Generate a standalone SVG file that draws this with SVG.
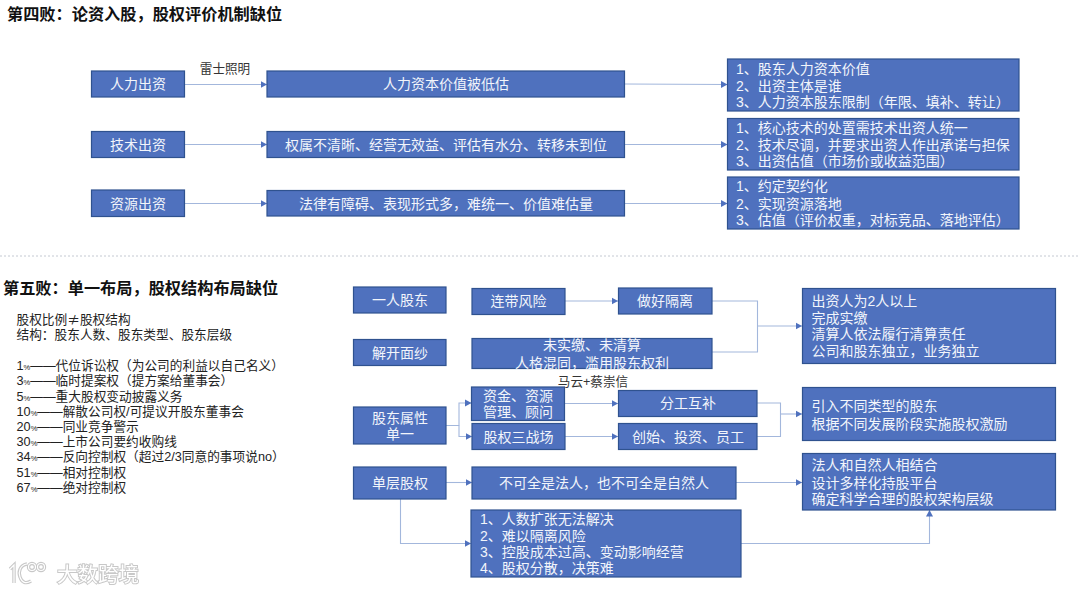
<svg xmlns="http://www.w3.org/2000/svg" width="1080" height="594" viewBox="0 0 1080 594">
<style>
text{font-family:"Liberation Sans","Noto Sans CJK SC",sans-serif}
.box{fill:#4f71be;stroke:#2f528f;stroke-width:1.2}
.c{fill:#f2f5fb;font-size:14px;text-anchor:middle}
.l{fill:#f2f5fb;font-size:14px}
.t{fill:#111;font-size:16.200px;font-weight:700}
.n{fill:#222;font-size:12.700px}
.p{font-size:7.500px}
.k{fill:#333;font-size:12.600px;text-anchor:middle}
.e{fill:none;stroke:#a3b7dc;stroke-width:1.1}
.d{fill:none;stroke:#c4c9d2;stroke-width:1;stroke-dasharray:2 2}
.wm{fill:#fff;stroke:#c8c8c8;stroke-width:2;paint-order:stroke;font-size:20.500px}
.ws{fill:none;stroke:#c8c8c8;stroke-width:3.400}
.wi{fill:none;stroke:#fff;stroke-width:1.200}
</style>
<defs><marker id="a" markerUnits="userSpaceOnUse" markerWidth="7" markerHeight="8" refX="6.500" refY="4" orient="auto"><path d="M0 .5L6.500 4L0 7.500Z" fill="#4f71be"/></marker>
<filter id="soft" x="-10%" y="-10%" width="120%" height="120%"><feGaussianBlur stdDeviation=".5"/></filter></defs>
<rect width="1080" height="594" fill="#fff"/>
<text class="t" x="7" y="20">第四败：论资入股，股权评价机制缺位</text>
<text class="t" x="3" y="294">第五败：单一布局，股权结构布局缺位</text>
<path class="d" d="M0 256H1080"/>
<g id="connectors">
<path class="e" marker-end="url(#a)" d="M184.500 84.500H267"/>
<path class="e" marker-end="url(#a)" d="M184.500 144.500H267"/>
<path class="e" marker-end="url(#a)" d="M184.500 203.500H267"/>
<path class="e" marker-end="url(#a)" d="M624.500 84L727.500 84.500"/>
<path class="e" marker-end="url(#a)" d="M624.500 144.500H727.500"/>
<path class="e" marker-end="url(#a)" d="M624.500 203.500H727.500"/>
<path class="e" marker-end="url(#a)" d="M565 301H618"/>
<path class="e" d="M712 301H757.500V352H712"/>
<path class="e" marker-end="url(#a)" d="M757.500 326H802"/>
<path class="e" marker-end="url(#a)" d="M446 425.500H459V403H471.500"/>
<path class="e" marker-end="url(#a)" d="M459 425.500V436.500H472"/>
<path class="e" marker-end="url(#a)" d="M565 403.500H618"/>
<path class="e" marker-end="url(#a)" d="M565 436.500H618"/>
<path class="e" d="M757 403H780.500V436.500H757"/>
<path class="e" marker-end="url(#a)" d="M780.500 414H802"/>
<path class="e" marker-end="url(#a)" d="M446 482.500H472"/>
<path class="e" marker-end="url(#a)" d="M736 482.500H802"/>
<path class="e" marker-end="url(#a)" d="M400.500 499V543.500H471"/>
<path class="e" marker-end="url(#a)" d="M741 543.500H929.500V510"/>
</g>
<text class="k" x="225" y="73">雷士照明</text>
<g id="n1"><rect class="box" x="91.500" y="71" width="93" height="26"/><text class="c" x="138" y="89">人力出资</text></g>
<g id="n2"><rect class="box" x="267" y="71" width="357.500" height="26"/><text class="c" x="446" y="89">人力资本价值被低估</text></g>
<g id="n3"><rect class="box" x="727.500" y="59" width="291.500" height="52"/><text class="l" x="736" y="73.500">1、股东人力资本价值</text><text class="l" x="736" y="90.500">2、出资主体是谁</text><text class="l" x="736" y="106.500">3、人力资本股东限制（年限、填补、转让）</text></g>
<g id="n4"><rect class="box" x="91.500" y="131.500" width="93" height="26"/><text class="c" x="138" y="149.500">技术出资</text></g>
<g id="n5"><rect class="box" x="267" y="131.500" width="357.500" height="26"/><text class="c" x="446" y="149.500">权属不清晰、经营无效益、评估有水分、转移未到位</text></g>
<g id="n6"><rect class="box" x="727.500" y="118.500" width="291.500" height="51.500"/><text class="l" x="736" y="133">1、核心技术的处置需技术出资人统一</text><text class="l" x="736" y="150">2、技术尽调，并要求出资人作出承诺与担保</text><text class="l" x="736" y="166">3、出资估值（市场价或收益范围）</text></g>
<g id="n7"><rect class="box" x="91.500" y="190" width="93" height="26.500"/><text class="c" x="138" y="208.500">资源出资</text></g>
<g id="n8"><rect class="box" x="267" y="190.500" width="357.500" height="25.500"/><text class="c" x="446" y="208.500">法律有障碍、表现形式多，难统一、价值难估量</text></g>
<g id="n9"><rect class="box" x="727.500" y="177" width="291.500" height="52"/><text class="l" x="736" y="191">1、约定契约化</text><text class="l" x="736" y="208.500">2、实现资源落地</text><text class="l" x="736" y="225">3、估值（评价权重，对标竞品、落地评估）</text></g>
<g id="n10"><text class="n" x="16.500" y="323.500">股权比例<tspan font-family="Noto Sans CJK SC">≠</tspan>股权结构</text><text class="n" x="16.500" y="338.500">结构：股东人数、股东类型、股东层级</text>
<text class="n" x="16.500" y="369.500">1<tspan class="p">%</tspan>——代位诉讼权（为公司的利益以自己名义）</text>
<text class="n" x="16.500" y="384.500">3<tspan class="p">%</tspan>——临时提案权（提方案给董事会）</text>
<text class="n" x="16.500" y="400.500">5<tspan class="p">%</tspan>——重大股权变动披露义务</text>
<text class="n" x="16.500" y="415.500">10<tspan class="p">%</tspan>——解散公司权/可提议开股东董事会</text>
<text class="n" x="16.500" y="430.500">20<tspan class="p">%</tspan>——同业竞争警示</text>
<text class="n" x="16.500" y="446">30<tspan class="p">%</tspan>——上市公司要约收购线</text>
<text class="n" x="16.500" y="461">34<tspan class="p">%</tspan>——反向控制权（超过2/3同意的事项说no）</text>
<text class="n" x="16.500" y="476.500">51<tspan class="p">%</tspan>——相对控制权</text>
<text class="n" x="16.500" y="492">67<tspan class="p">%</tspan>——绝对控制权</text></g>
<g id="n11"><rect class="box" x="353.500" y="287" width="92.500" height="26"/><text class="c" x="400" y="305">一人股东</text></g>
<g id="n12"><rect class="box" x="472" y="288.500" width="93" height="26"/><text class="c" x="518.500" y="306">连带风险</text></g>
<g id="n13"><rect class="box" x="618.500" y="288" width="93.500" height="26"/><text class="c" x="665" y="306">做好隔离</text></g>
<g id="n14"><rect class="box" x="802.500" y="288.500" width="253" height="75"/><text class="l" x="811.500" y="306">出资人为2人以上</text><text class="l" x="811.500" y="323">完成实缴</text><text class="l" x="811.500" y="339">清算人依法履行清算责任</text><text class="l" x="811.500" y="356">公司和股东独立，业务独立</text></g>
<g id="n15"><rect class="box" x="353.500" y="339.500" width="92.500" height="26"/><text class="c" x="400" y="358">解开面纱</text></g>
<g id="n16"><rect class="box" x="472" y="338.500" width="240" height="30"/><text class="c" x="592" y="350">未实缴、未清算</text><text class="c" x="592" y="367.500">人格混同，滥用股东权利</text></g>
<text class="k" x="593" y="385.500">马云+蔡崇信</text>
<g id="n17"><rect class="box" x="353.500" y="407" width="92.500" height="37"/><text class="c" x="400" y="423">股东属性</text><text class="c" x="400" y="439">单一</text></g>
<g id="n18"><rect class="box" x="471.500" y="387" width="93" height="33.500"/><text class="c" x="518" y="401">资金、资源</text><text class="c" x="518" y="417">管理、顾问</text></g>
<g id="n19"><rect class="box" x="472" y="423.500" width="93" height="26"/><text class="c" x="518.500" y="442">股权三战场</text></g>
<g id="n20"><rect class="box" x="618.500" y="390.500" width="138.500" height="26"/><text class="c" x="688" y="408">分工互补</text></g>
<g id="n21"><rect class="box" x="618.500" y="423.500" width="138.500" height="26"/><text class="c" x="688" y="442">创始、投资、员工</text></g>
<g id="n22"><rect class="box" x="802.500" y="387.500" width="253" height="53"/><text class="l" x="811.500" y="411">引入不同类型的股东</text><text class="l" x="811.500" y="429">根据不同发展阶段实施股权激励</text></g>
<g id="n23"><rect class="box" x="353.500" y="467" width="92.500" height="32"/><text class="c" x="400" y="488">单层股权</text></g>
<g id="n24"><rect class="box" x="472" y="467" width="264" height="32"/><text class="c" x="604" y="488">不可全是法人，也不可全是自然人</text></g>
<g id="n25"><rect class="box" x="802.500" y="453.500" width="253" height="56.500"/><text class="l" x="811.500" y="470">法人和自然人相结合</text><text class="l" x="811.500" y="488">设计多样化持股平台</text><text class="l" x="811.500" y="504">确定科学合理的股权架构层级</text></g>
<g id="n26"><rect class="box" x="471" y="510" width="270" height="67"/><text class="l" x="480" y="524">1、人数扩张无法解决</text><text class="l" x="480" y="541">2、难以隔离风险</text><text class="l" x="480" y="557">3、控股成本过高、变动影响经营</text><text class="l" x="480" y="573">4、股权分散，决策难</text></g>
<g id="watermark" filter="url(#soft)"><path class="ws" d="M10 569L14 565V583M27 564C20 565 18 572 20 577C22 583 26 584 31 581"/><circle class="ws" cx="32" cy="567" r="3.500"/><circle class="ws" cx="41" cy="567" r="3.500"/><path class="wi" d="M10 569L14 565V583M27 564C20 565 18 572 20 577C22 583 26 584 31 581"/><circle class="wi" cx="32" cy="567" r="3.500"/><circle class="wi" cx="41" cy="567" r="3.500"/><text class="wm" x="57" y="582">大数跨境</text></g>
</svg>
